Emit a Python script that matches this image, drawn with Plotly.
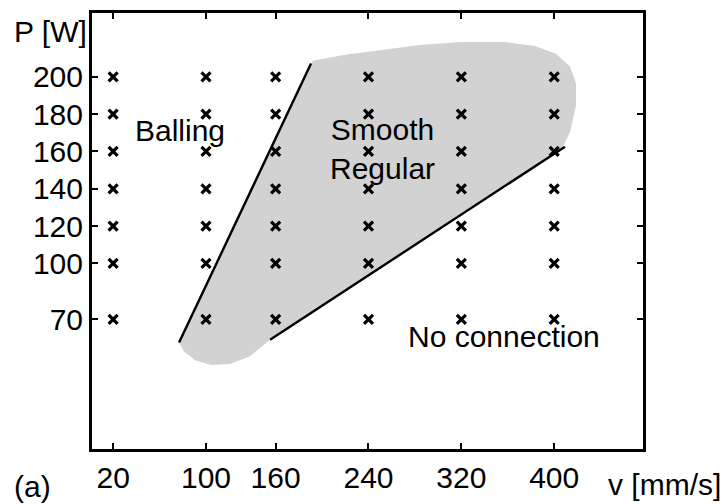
import plotly.graph_objects as go

# Process window: scan speed v [mm/s] vs. laser power P [W]
speeds = [20, 100, 160, 240, 320, 400]
powers = [70, 100, 120, 140, 160, 180, 200]

# Outline of the "Smooth / Regular" region (v, P)
region_v = [76.8, 81.1, 90.6, 104.3, 120.7, 137.9, 155.2, 406.8, 413.6, 418.8,
            418.8, 413.6, 401.5, 383.5, 357.7, 318.9, 284.4, 249.9, 219.8, 192.2, 190.5, 76.8]
region_p = [57.6, 52.9, 48.2, 45.6, 46.1, 50.3, 59.1, 161.6, 170.5, 184.6,
            196.6, 205.5, 212.3, 216.5, 218.6, 218.6, 217.0, 214.4, 211.8, 208.6, 207.1, 57.6]

# Boundary lines between regimes (v, P)
balling_v = [76.8, 190.5]
balling_p = [57.6, 207.1]
noconn_v = [155.2, 409.3]
noconn_p = [59.1, 162.6]

FONT = "Liberation Sans, Arial, sans-serif"
FS = 30

grid_v = [v for p in powers for v in speeds]
grid_p = [p for p in powers for v in speeds]

fig = go.Figure()
fig.add_trace(go.Scatter(x=region_v, y=region_p, mode="lines", fill="toself",
                         fillcolor="#d2d2d2", line=dict(width=0, color="#d2d2d2"),
                         hoverinfo="skip"))
fig.add_trace(go.Scatter(x=balling_v, y=balling_p, mode="lines",
                         line=dict(color="black", width=2.4)))
fig.add_trace(go.Scatter(x=noconn_v, y=noconn_p, mode="lines",
                         line=dict(color="black", width=2.4)))
fig.add_trace(go.Scatter(x=grid_v, y=grid_p, mode="markers",
                         marker=dict(symbol="x-thin-open", size=9, color="black",
                                     line=dict(width=3.2, color="black"))))

axis_common = dict(showline=True, linecolor="black", linewidth=3, mirror="ticks",
                   ticks="inside", ticklen=6, tickwidth=2, tickcolor="black",
                   showgrid=False, zeroline=False,
                   tickfont=dict(family=FONT, size=FS, color="black"))

fig.update_xaxes(range=[1.8, 476.5], tickvals=speeds, ticktext=[str(v) for v in speeds],
                 **axis_common)
fig.update_yaxes(range=[0.6, 234.2], tickvals=powers, ticktext=[str(p) for p in powers],
                 **axis_common)

ann = dict(showarrow=False, font=dict(family=FONT, size=FS, color="black"))
fig.add_annotation(x=37.1, y=171.5, text="Balling", xanchor="left", yanchor="middle", **ann)
fig.add_annotation(x=252, y=161.5, text="Smooth<br>Regular", xanchor="center",
                   yanchor="middle", **ann)
fig.add_annotation(x=272.5, y=60.7, text="No connection", xanchor="left",
                   yanchor="middle", **ann)
fig.add_annotation(xref="paper", yref="paper", x=-0.145, y=0.958, text="P [W]",
                   xanchor="left", yanchor="middle", **ann)
fig.add_annotation(xref="paper", yref="paper", x=0.933, y=-0.082, text="v [mm/s]",
                   xanchor="left", yanchor="middle", **ann)
fig.add_annotation(xref="paper", yref="paper", x=-0.146, y=-0.086, text="(a)",
                   xanchor="left", yanchor="middle", **ann)

fig.update_layout(width=722, height=504, margin=dict(l=92, r=79, t=10, b=47),
                  paper_bgcolor="white", plot_bgcolor="white", showlegend=False)

fig.write_html("out.html")
